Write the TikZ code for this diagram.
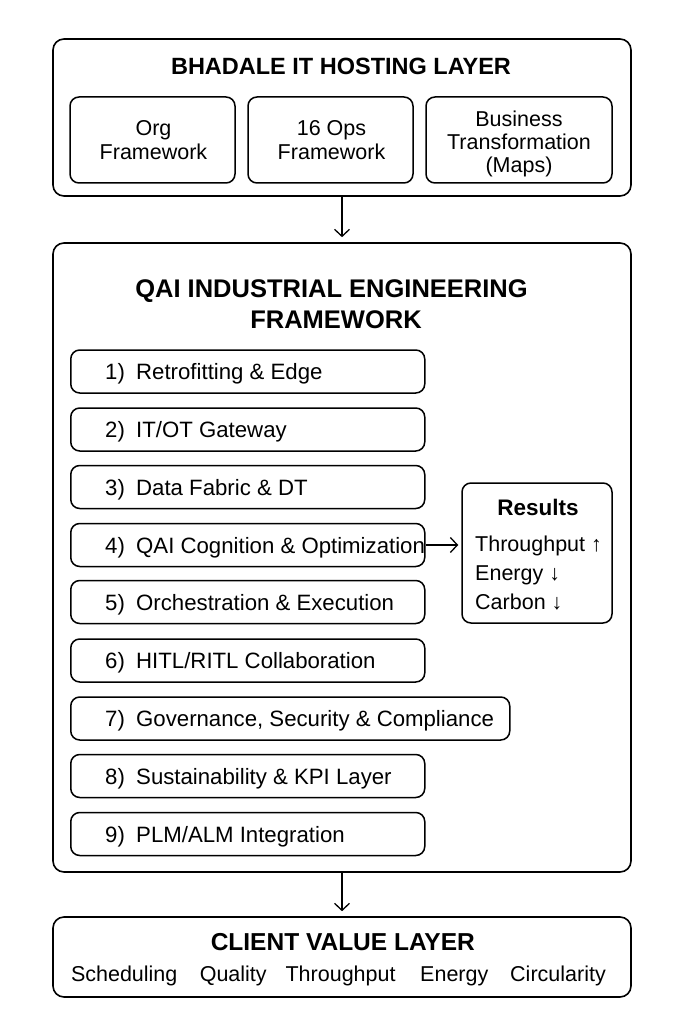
\documentclass[tikz,border=0pt]{standalone}
\usepackage{fontspec}
\setmainfont{Liberation Sans}
\usetikzlibrary{arrows.meta}
\begin{document}
\begin{tikzpicture}[x=1pt,y=-1pt,
  lay/.style={draw, line width=1.6pt, rounded corners=11pt, inner sep=0pt},
  sub/.style={draw, line width=1.5pt, rounded corners=9pt, inner sep=0pt},
  reg/.style={font=\fontsize{21.5}{24}\selectfont, inner sep=0pt},
  stp/.style={font=\fontsize{22.2}{24}\selectfont, inner sep=0pt},
  ttl/.style={font=\bfseries\fontsize{23.5}{28}\selectfont, inner sep=0pt},
  bigttl/.style={font=\bfseries\fontsize{25.5}{31}\selectfont, inner sep=0pt},
  arr/.style={-{Straight Barb[length=7pt,width=15pt]}, line width=1.3pt}]
\useasboundingbox (0,0) rectangle (683,1024);

% Hosting layer
\node[lay, minimum width=578pt, minimum height=157pt] (host) at (342,117.5) {};
\node[ttl, anchor=base] (hostT) at (341,75) {BHADALE IT HOSTING LAYER};
\node[sub, minimum width=165pt, minimum height=86pt] (org) at (152.5,140) {};
\node[sub, minimum width=165pt, minimum height=86pt] (ops) at (330.5,140) {};
\node[sub, minimum width=186pt, minimum height=86pt] (biz) at (519,140) {};
\node[reg, align=center] (orgT) at (153.5,140) {Org\\Framework};
\node[reg, align=center] (opsT) at (331.5,140) {16 Ops\\Framework};
\node[reg, align=center, font=\fontsize{21.5}{23}\selectfont] (bizT) at (519,144) {Business\\Transformation\\(Maps)};

% QAI framework
\node[lay, minimum width=578pt, minimum height=629pt] (qai) at (342,557.5) {};
\node[bigttl, anchor=base] (qaiT1) at (331.5,297.3) {QAI INDUSTRIAL ENGINEERING};
\node[bigttl, anchor=base] (qaiT2) at (336,328.3) {FRAMEWORK};

\foreach \i/\y/\w/\t in {
  1/371.5/354/{Retrofitting \& Edge},
  2/429.5/354/{IT/OT Gateway},
  3/487/354/{Data Fabric \& DT},
  4/545/354/{QAI Cognition \& Optimization},
  5/602/354/{Orchestration \& Execution},
  6/660.5/354/{HITL/RITL Collaboration},
  7/718.5/439/{Governance, Security \& Compliance},
  8/776/354/{Sustainability \& KPI Layer},
  9/834/354/{PLM/ALM Integration}} {
  \node[sub, minimum width=\w pt, minimum height=43pt, anchor=west] (s\i) at (70,\y) {};
  \node[stp, anchor=base west] (n\i) at (105,\y+8) {\i)};
  \node[stp, anchor=base west] (t\i) at (136,\y+8) {\t};
}

% Results
\node[sub, minimum width=150pt, minimum height=140pt] (res) at (537,553) {};
\node[font=\bfseries\fontsize{22.5}{26}\selectfont, inner sep=0pt, anchor=base] (resT) at (538,515.7) {Results};
\node[reg, anchor=base west] (r1) at (475,551.7) {Throughput ↑};
\node[reg, anchor=base west] (r2) at (475,580) {Energy ↓};
\node[reg, anchor=base west] (r3) at (475,609) {Carbon ↓};
\draw[arr, shorten >=3pt] (s4.east) -- (s4.east -| res.west);

% Client value layer
\node[lay, minimum width=578pt, minimum height=80pt] (client) at (342,957) {};
\node[ttl, font=\bfseries\fontsize{24.5}{28}\selectfont, anchor=base] (clientT) at (342.8,950.7) {CLIENT VALUE LAYER};
\node[reg, anchor=base west] (c1) at (70.8,981.7) {Scheduling};
\node[reg, anchor=base west] (c2) at (199.6,981.7) {Quality};
\node[reg, anchor=base west] (c3) at (285.4,981.7) {Throughput};
\node[reg, anchor=base west] (c4) at (420,981.7) {Energy};
\node[reg, anchor=base west] (c5) at (510,981.7) {Circularity};

% Connectors
\draw[arr, shorten >=5pt] (host.south) -- (qai.north);
\draw[arr, shorten >=5pt] (qai.south) -- (client.north);
\end{tikzpicture}
\end{document}
